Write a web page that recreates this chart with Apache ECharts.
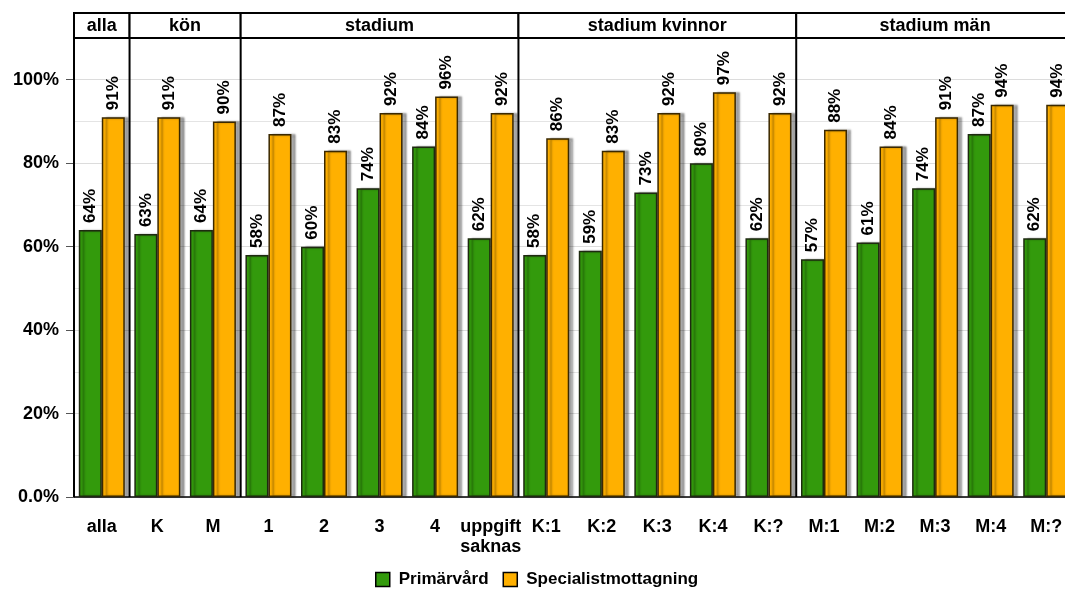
<!DOCTYPE html>
<html><head><meta charset="utf-8">
<script src="https://cdn.jsdelivr.net/npm/echarts@6/dist/echarts.min.js"></script>
<style>html,body{margin:0;padding:0;background:#fff;overflow:hidden}#c{width:1080px;height:590px}</style>
</head><body><div id="c"></div>
<script>
const categories = ['alla','K','M','1','2','3','4','uppgift\nsaknas','K:1','K:2','K:3','K:4','K:?','M:1','M:2','M:3','M:4','M:?'];
const primarvard = [64,63,64,58,60,74,84,62,58,59,73,80,62,57,61,74,87,62];
const specialist = [91,91,90,87,83,92,96,92,86,83,92,97,92,88,84,91,94,94];
const panelNames = ['alla','kön','stadium','stadium kvinnor','stadium män'];
const panelSizes = [1,2,5,5,5];
const seriesNames = ['Primärvård','Specialistmottagning'];
const yTicks = [0,20,40,60,80,100];

const panels = [];
let s = 0;
panelSizes.forEach((n,i)=>{ panels.push([s, s+n-1, 0, panelNames[i]]); s += n; });

const FONT = '"Liberation Sans", Arial, sans-serif';

const chart = echarts.init(document.getElementById('c'));
const barLabel = {
  show: true, position: 'top', rotate: 90, distance: 7,
  align: 'left', verticalAlign: 'middle',
  formatter: p => Math.round(p.value) + '%',
  fontFamily: FONT, fontWeight: 'bold', fontSize: 17, color: '#000'
};
const shadow = {shadowColor:'rgba(0,0,0,0.35)', shadowOffsetX:4, shadowOffsetY:0, shadowBlur:2};
chart.setOption({
  animation: false,
  textStyle: {fontFamily: FONT},
  grid: {left: 74, right: 6, top: 38, bottom: 93, containLabel: false},
  legend: {
    data: seriesNames, left: 370, top: 566, icon: 'rect', itemWidth: 14, itemHeight: 14, itemGap: 14,
    textStyle: {fontFamily: FONT, fontWeight: 'bold', fontSize: 17, color: '#000', padding: [0,0,0,4]},
    itemStyle: {borderColor: '#000', borderWidth: 1.5}
  },
  xAxis: {
    type: 'category', data: categories,
    axisLine: {lineStyle: {color: '#000', width: 1.5}},
    axisTick: {alignWithLabel: true, length: 8, lineStyle: {color: '#555'}},
    axisLabel: {fontFamily: FONT, fontWeight: 'bold', fontSize: 18, color: '#000', margin: 20, lineHeight: 20, interval: 0}
  },
  yAxis: {
    type: 'value', min: 0, max: 110, interval: 20,
    axisLine: {show: true, lineStyle: {color: '#000', width: 1.5}},
    axisTick: {show: true, length: 8, customValues: yTicks, lineStyle: {color: '#555'}},
    axisLabel: {fontFamily: FONT, fontWeight: 'bold', fontSize: 18, color: '#000', margin: 15, customValues: yTicks,
      formatter: v => v === 0 ? '0.0%' : v + '%'},
    splitLine: {show: true, lineStyle: {color: '#dcdcdc'}},
    minorTick: {show: false, splitNumber: 2},
    minorSplitLine: {show: true, lineStyle: {color: '#e4e4e4'}}
  },
  series: [
    {name: seriesNames[0], type: 'bar', data: primarvard, barWidth: 23, barGap: '0%',
     itemStyle: Object.assign({color: '#339A0C', borderColor: '#1e2a10', borderWidth: 1.5}, shadow),
     label: barLabel},
    {name: seriesNames[1], type: 'bar', data: specialist, barWidth: 23,
     itemStyle: Object.assign({color: '#FFB000', borderColor: '#3a2800', borderWidth: 1.5}, shadow),
     label: barLabel},
    {type: 'custom', data: panels, encode: {x: [0,1], y: 2}, clip: false, silent: true, z: 10,
     renderItem: (params, api) => {
       const cs = params.coordSys;
       const bw = api.size([1, 0])[0];
       const x0 = api.coord([api.value(0), 0])[0] - bw/2;
       const x1 = api.coord([api.value(1), 0])[0] + bw/2;
       const h = 25;
       const name = panels[params.dataIndex][3];
       return {type: 'group', children: [
         {type: 'rect', shape: {x: x0, y: cs.y - h, width: x1 - x0, height: h},
          style: {fill: '#fff', stroke: '#000', lineWidth: 2}},
         {type: 'text', style: {x: (x0 + x1)/2, y: cs.y - h/2 + 1, text: name, align: 'center', verticalAlign: 'middle',
          font: 'bold 18px ' + FONT, fill: '#000'}},
         {type: 'line', shape: {x1: x0, y1: cs.y, x2: x0, y2: cs.y + cs.height},
          style: {stroke: '#000', lineWidth: 2}}
       ]};
     }}
  ]
});
</script></body></html>
